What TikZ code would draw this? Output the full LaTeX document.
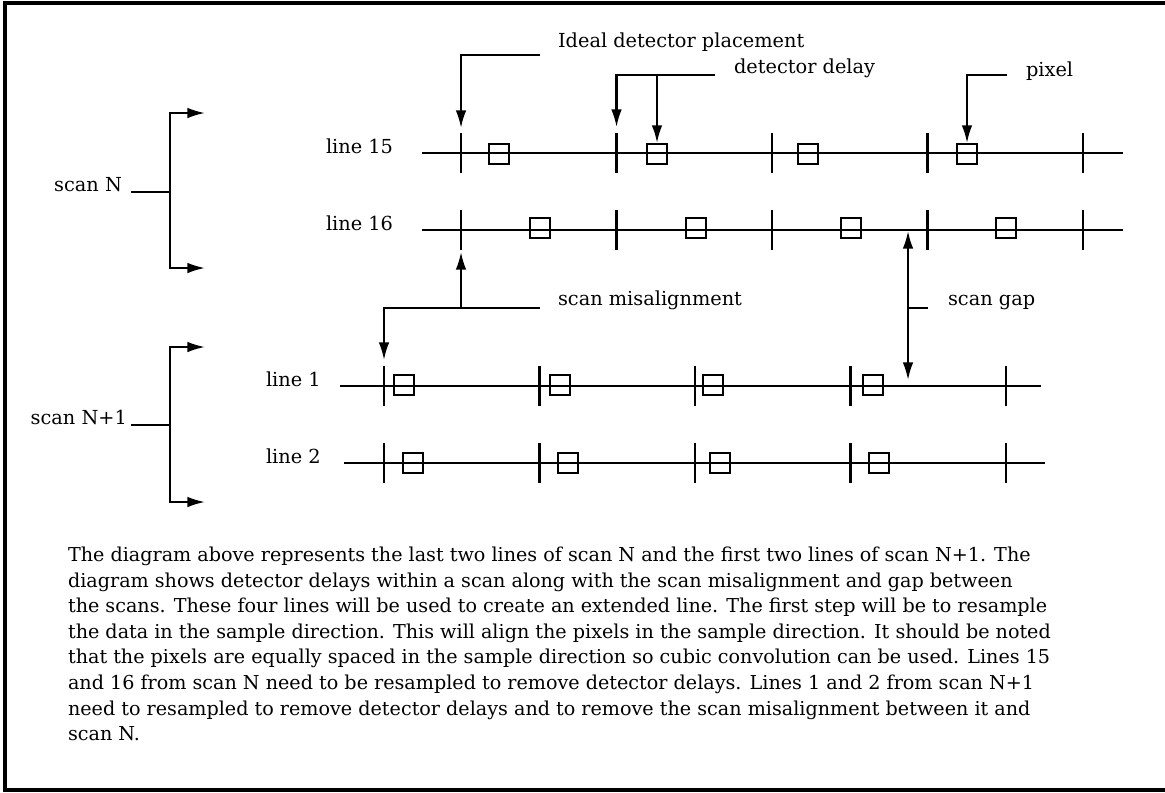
\documentclass[tikz,border=0pt]{standalone}
\usepackage{fontspec}
\setmainfont{DejaVu Serif}
\usetikzlibrary{arrows.meta,calc}
\begin{document}
\begin{tikzpicture}[x=0.02cm,y=-0.02cm,line width=1.2pt,
  >={Latex[length=10pt,width=6pt]},
  lbl/.style={inner sep=0pt,font=\fontsize{11}{13}\selectfont},
  pix/.style={draw,inner sep=0pt,minimum size=0.4cm}]
\useasboundingbox (0,0) rectangle (1165,792);
\draw[line width=2pt](1165,3)--(5,3)--(5,790)--(1165,790);
% scan brackets
\node[lbl,anchor=base east](scanN)at(123,191){scan N};
\coordinate(bN)at(170,192);
\coordinate(bNtop)at(205,113);
\coordinate(bNbot)at(205,268);
\draw(131,192)--(bN);
\draw[->](bN)|-(bNtop);
\draw[->](bN)|-(bNbot);
\node[lbl,anchor=base east](scanM)at(128,424){scan N+1};
\coordinate(bM)at(170,425);
\coordinate(bMtop)at(205,347);
\coordinate(bMbot)at(205,502);
\draw(131,425)--(bM);
\draw[->](bM)|-(bMtop);
\draw[->](bM)|-(bMbot);
% scan lines with ticks
\foreach \y/\xa/\xb/\t/\nm in {153/422/1123/461/15,230/422/1123/461/16,386/340/1041/384/1,463/344/1045/384/2}{
  \draw(\xa,\y)--(\xb,\y);
  \foreach \i in {1,...,5}
    \draw({\t+155.5*(\i-1)},\y-20)coordinate(t\nm-\i)--++(0,40);
}
\node[lbl,anchor=base west](l15)at(325,153){line 15};
\node[lbl,anchor=base west](l16)at(325,230){line 16};
\node[lbl,anchor=base west](l1)at(265,386){line 1};
\node[lbl,anchor=base west](l2)at(265,463){line 2};
% pixels
\foreach \x[count=\i] in {499,657,808,967}\node[pix](p15-\i)at(\x,154){};
\foreach \x[count=\i] in {540,696,851,1006}\node[pix](p16-\i)at(\x,228){};
\foreach \x[count=\i] in {404,560,713,873}\node[pix](p1-\i)at(\x,385){};
\foreach \x[count=\i] in {413,568,720,879}\node[pix](p2-\i)at(\x,463){};
% callouts
\node[lbl,anchor=base west](ideal)at(557,47){Ideal detector placement};
\coordinate(ideal-c)at(540,55);
\draw[->](ideal-c)-|($(t15-1)+(0,-5)$);
\node[lbl,anchor=base west](delay)at(733,73){detector delay};
\coordinate(delay-c)at(715,75);
\draw[->](delay-c)-|($(t15-2)+(0,-6)$);
\draw[->](p15-2.north|-delay-c)--(p15-2.north);
\node[lbl,anchor=base west](pixel)at(1025,76){pixel};
\coordinate(pixel-c)at(1007,75);
\draw[->](pixel-c)-|(p15-4.north);
\node[lbl,anchor=base west](mis)at(557,305){scan misalignment};
\coordinate(mis-c)at(540,308);
\draw[->](mis-c)-|($(t1-1)+(0,-6)$);
\draw[->](t16-1|-mis-c)--($(t16-1)+(0,42)$);
\node[lbl,anchor=base west](gap)at(947,305){scan gap};
\coordinate(gap-c)at(928,308);
\coordinate(gap-top)at(908,231);
\coordinate(gap-bot)at(908,380);
\draw[<->](gap-top)--(gap-bot);
\draw(gap-c)--(gap-top|-gap-c);
% description
\node[lbl,anchor=north west,align=left,font=\fontsize{10.9}{14.56}\selectfont](desc)at(67,546){%
The diagram above represents the last two lines of scan N and the first two lines of scan N+1. The\\
diagram shows detector delays within a scan along with the scan misalignment and gap between\\
the scans. These four lines will be used to create an extended line. The first step will be to resample\\
the data in the sample direction. This will align the pixels in the sample direction. It should be noted\\
that the pixels are equally spaced in the sample direction so cubic convolution can be used. Lines 15\\
and 16 from scan N need to be resampled to remove detector delays. Lines 1 and 2 from scan N+1\\
need to resampled to remove detector delays and to remove the scan misalignment between it and\\
scan N.};
\end{tikzpicture}
\end{document}
